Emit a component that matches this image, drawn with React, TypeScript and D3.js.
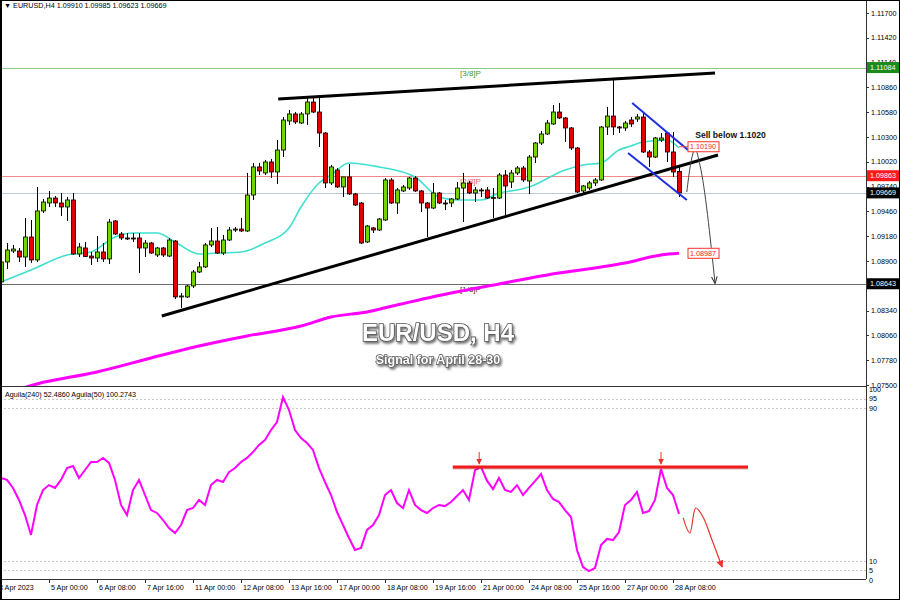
import React from 'react';
import * as d3 from 'd3';

// ---------- data ----------
const candleOpen = [1.08663,1.08889,1.09013,1.09013,1.08945,1.09171,1.08912,1.09465,1.09555,1.09611,1.09555,1.09510,1.09589,1.08979,1.09047,1.08956,1.08934,1.09002,1.08923,1.09352,1.09205,1.09160,1.09160,1.09160,1.09047,1.09103,1.08968,1.09047,1.08956,1.09126,1.08494,1.08494,1.08618,1.08776,1.08833,1.09081,1.09126,1.08990,1.09137,1.09250,1.09261,1.09239,1.09645,1.09962,1.09894,1.10018,1.09905,1.10153,1.10481,1.10560,1.10458,1.10560,1.10695,1.10582,1.10345,1.09781,1.09927,1.09736,1.09849,1.09657,1.09555,1.09115,1.09273,1.09250,1.09363,1.09815,1.09555,1.09691,1.09724,1.09837,1.09691,1.09555,1.09498,1.09668,1.09555,1.09555,1.09600,1.09724,1.09781,1.09668,1.09702,1.09702,1.09611,1.09611,1.09871,1.09792,1.09894,1.09950,1.09803,1.10074,1.10232,1.10334,1.10447,1.10582,1.10515,1.10402,1.10176,1.09691,1.09724,1.09781,1.09815,1.10413,1.10537,1.10413,1.10402,1.10492,1.10503,1.10526,1.10131,1.10074,1.10266,1.10345,1.10131,1.09910];
const candleHigh = [1.08912,1.09103,1.09081,1.09047,1.09386,1.09363,1.09736,1.09600,1.09691,1.09634,1.09668,1.09623,1.09668,1.09103,1.09115,1.09002,1.09182,1.09103,1.09374,1.09363,1.09228,1.09216,1.09216,1.09216,1.09137,1.09115,1.09058,1.09058,1.09160,1.09137,1.08539,1.08629,1.08798,1.08889,1.09103,1.09273,1.09284,1.09194,1.09284,1.09284,1.09386,1.09894,1.10007,1.10007,1.10040,1.10052,1.10266,1.10526,1.10605,1.10582,1.10582,1.10740,1.10740,1.10740,1.10357,1.09984,1.09950,1.09849,1.09995,1.09668,1.09566,1.09307,1.09284,1.09386,1.09837,1.09837,1.09724,1.09758,1.09849,1.09860,1.09702,1.09566,1.09781,1.09679,1.09589,1.09611,1.09792,1.09894,1.09803,1.09736,1.09724,1.09736,1.09724,1.09894,1.09927,1.09927,1.09973,1.09973,1.10097,1.10244,1.10368,1.10492,1.10661,1.10684,1.10526,1.10413,1.10187,1.09758,1.09803,1.09837,1.10424,1.10639,1.10944,1.10424,1.10481,1.10526,1.10560,1.10571,1.10153,1.10300,1.10345,1.10357,1.10357,1.09985];
const candleLow = [1.08641,1.08810,1.08990,1.08889,1.08833,1.08878,1.08889,1.09442,1.09510,1.09510,1.09408,1.09352,1.08968,1.08945,1.08945,1.08855,1.08889,1.08889,1.08866,1.09194,1.09137,1.09137,1.09115,1.08764,1.08945,1.08979,1.08945,1.08945,1.08945,1.08471,1.08369,1.08482,1.08595,1.08764,1.08821,1.09058,1.08979,1.08968,1.09126,1.09228,1.09228,1.09228,1.09589,1.09871,1.09871,1.09837,1.09769,1.10074,1.10436,1.10447,1.10447,1.10436,1.10571,1.10187,1.09724,1.09758,1.09724,1.09623,1.09645,1.09521,1.09092,1.09103,1.09216,1.09239,1.09352,1.09544,1.09431,1.09679,1.09702,1.09679,1.09453,1.09171,1.09487,1.09544,1.09476,1.09510,1.09589,1.09340,1.09657,1.09566,1.09623,1.09600,1.09386,1.09600,1.09419,1.09724,1.09871,1.09792,1.09657,1.10007,1.10210,1.10323,1.10436,1.10503,1.10244,1.10153,1.09668,1.09668,1.09702,1.09747,1.09803,1.10323,1.10323,1.10345,1.10368,1.10413,1.10470,1.10119,1.09962,1.10063,1.10244,1.10018,1.09849,1.09623];
const candleClose = [1.08889,1.09024,1.09035,1.08945,1.09171,1.08912,1.09465,1.09566,1.09611,1.09555,1.09510,1.09589,1.08979,1.09058,1.08950,1.08934,1.09002,1.08923,1.09340,1.09205,1.09160,1.09149,1.09155,1.09047,1.09103,1.08990,1.09047,1.08968,1.09137,1.08494,1.08505,1.08618,1.08776,1.08833,1.09081,1.09126,1.08990,1.09137,1.09250,1.09261,1.09239,1.09645,1.09962,1.09916,1.10018,1.09905,1.10153,1.10492,1.10560,1.10470,1.10560,1.10695,1.10582,1.10345,1.09781,1.09962,1.09736,1.09849,1.09657,1.09532,1.09103,1.09295,1.09250,1.09374,1.09815,1.09555,1.09702,1.09736,1.09837,1.09691,1.09555,1.09498,1.09668,1.09555,1.09550,1.09600,1.09724,1.09781,1.09668,1.09702,1.09696,1.09611,1.09617,1.09871,1.09747,1.09894,1.09950,1.09815,1.10074,1.10232,1.10334,1.10458,1.10582,1.10515,1.10402,1.10176,1.09679,1.09747,1.09781,1.09815,1.10413,1.10537,1.10413,1.10408,1.10458,1.10447,1.10526,1.10131,1.10074,1.10289,1.10289,1.10131,1.09905,1.09669];

const maFastBars = [0,5,11,15,19,22,26,29,33,36,40,44,48,50,53,55,58,63,69,73,76,80,83,86,88,94,97,100,103,105,107,111,113];
const maFastValues = [1.08663,1.08798,1.08968,1.09002,1.09171,1.09216,1.09216,1.09115,1.08979,1.08990,1.09002,1.09103,1.09273,1.09510,1.09781,1.09871,1.10007,1.09962,1.09849,1.09623,1.09589,1.09589,1.09668,1.09702,1.09736,1.09927,1.09984,1.10007,1.10153,1.10199,1.10244,1.10266,1.10176];

const maSlowBars = [0,6,16,25,33,41,50,55,61,66,75,83,93,99,104,110,113];
const maSlowValues = [1.07387,1.07512,1.07647,1.07805,1.07941,1.08054,1.08166,1.08268,1.08325,1.08404,1.08539,1.08641,1.08764,1.08821,1.08878,1.08968,1.08987];

const aguilaValues = [53.4,52.4,48.2,41.9,34.0,23.6,39.3,47.1,49.7,48.2,52.4,58.6,59.7,53.4,57.6,61.8,61.8,63.9,61.3,52.4,39.3,34.0,47.1,52.4,44.5,36.6,35.1,31.4,27.2,24.6,28.8,36.6,37.7,41.9,39.3,49.7,52.4,51.3,56.5,58.6,61.8,63.9,67.0,70.7,73.3,78.5,82.7,95.8,89.0,78.5,74.3,71.7,68.1,58.6,51.3,44.5,35.6,28.8,22.0,15.7,16.8,26.2,28.8,34.0,44.5,47.1,40.3,37.7,47.1,39.3,36.6,35.1,37.7,39.3,38.7,40.8,44.0,47.1,41.9,57.5,59.2,52.0,47.6,53.4,47.1,46.1,49.7,44.5,48.2,51.8,55.5,47.1,42.4,40.8,36.6,33.0,15.7,6.8,4.7,6.3,18.3,21.5,20.9,25.1,39.3,41.9,46.1,35.1,36.1,41.9,58.1,48.2,44.5,34.6];

const priceTicks = [1.117,1.1142,1.1114,1.1086,1.1058,1.103,1.1002,1.0974,1.0946,1.0918,1.089,1.0862,1.0834,1.0806,1.0778,1.075];
const hiddenPriceTicks = [1.0862];
const timeTickBars = [8,16,24,32,40,48,56,64,72,80,88,96,104,112];
const timeTickLabels = ['5 Apr 00:00','6 Apr 08:00','7 Apr 16:00','11 Apr 00:00','12 Apr 08:00','13 Apr 16:00','17 Apr 00:00','18 Apr 08:00','19 Apr 16:00','21 Apr 00:00','24 Apr 08:00','25 Apr 16:00','27 Apr 00:00','28 Apr 08:00'];
const aguilaTicks = [100,95,90,10,5,0];
const aguilaGrid = [95,90,10,5];

const levelPrices = [1.11084,1.09863,1.09669,1.08643];
const levelColors = ['#8cc98c','#f08a8a','#bcc6d6','#6a6a6a'];
const levelBoxColors = ['#1a8a1a','#ff1a1a','#000000','#000000'];
const murreyNames = ['[3/8]P','[2/8]P','','[1/8]P'];
const murreyTextColors = ['#3c9a3c','#f06060','','#333333'];

const upperTrend: [number, number][] = [[46.2,1.10729],[119,1.11023]];
const lowerTrend: [number, number][] = [[26.8,1.08279],[119.5,1.10097]];
const channelUpper: [number, number][] = [[105.2,1.10684],[114.5,1.10153]];
const channelLower: [number, number][] = [[104.5,1.10119],[114.3,1.09589]];
const sellPath: [number, number][] = [[114.3,1.09679],[114.9,1.0998],[115.7,1.1016],[116.5,1.0998],[119,1.08652]];
const aguilaForecast: [number, number][] = [[113.7,32.5],[114.8,24.6],[115.8,37.7],[117,33.0],[118.5,20.9],[120.2,6.8]];
const aguilaLevel = 59.2;
const aguilaLevelBars = [75.3,124.5];
const aguilaPeakBars = [79.7,110];

export default function App() {
  const x = d3.scaleLinear().domain([0, 113]).range([1, 679]);
  const y = d3.scaleLinear().domain([1.075, 1.117]).range([385, 13]);
  const yi = d3.scaleLinear().domain([0, 100]).range([580, 389]);

  const font = 'Liberation Sans, Arial, sans-serif';
  const fs = 7.2;

  const lineP = d3.line<[number, number]>().x(d => x(d[0])).y(d => y(d[1]));
  const lineFast = d3.line<number>().x((_, i) => x(maFastBars[i])).y(d => y(d)).curve(d3.curveMonotoneX);
  const lineSlow = d3.line<number>().x((_, i) => x(maSlowBars[i])).y(d => y(d)).curve(d3.curveMonotoneX);
  const lineAg = d3.line<number>().x((_, i) => x(i)).y(d => yi(d));
  const sellLine = d3.line<[number, number]>().x(d => x(d[0])).y(d => y(d[1])).curve(d3.curveMonotoneX);
  const fcLine = d3.line<[number, number]>().x(d => x(d[0])).y(d => yi(d[1])).curve(d3.curveCatmullRom);

  return (
    <svg width={900} height={600} style={{ position: 'absolute', left: 0, top: 0, background: '#fff' }} fontFamily={font}>
      <defs>
        <clipPath id="mainClip"><rect x={0} y={0} width={866} height={386} /></clipPath>
        <clipPath id="indClip"><rect x={0} y={388} width={866} height={191} /></clipPath>
        <marker id="arrGray" viewBox="0 0 10 10" refX="9" refY="5" markerWidth="7" markerHeight="7" orient="auto">
          <path d="M0,1 L10,5 L0,9" fill="none" stroke="#333" strokeWidth="1.5" />
        </marker>
        <marker id="arrRed" viewBox="0 0 10 10" refX="9" refY="5" markerWidth="6" markerHeight="6" orient="auto">
          <path d="M0,0 L10,5 L0,10 z" fill="#e8352b" />
        </marker>
        <filter id="shadow" x="-10%" y="-30%" width="130%" height="170%">
          <feDropShadow dx="1.5" dy="2" stdDeviation="1.2" floodColor="#000" floodOpacity="0.55" />
        </filter>
      </defs>
      <rect x={0} y={0} width={900} height={600} fill="#fff" />

      {/* main panel */}
      <g clipPath="url(#mainClip)">
        {levelPrices.map((p, k) => (
          <line key={'lv' + k} x1={0} x2={866} y1={Math.round(y(p)) + 0.5} y2={Math.round(y(p)) + 0.5} stroke={levelColors[k]} strokeWidth={1} />
        ))}
        {murreyNames.map((n, k) => n ? (
          <text key={'mn' + k} x={x(76.5)} y={y(levelPrices[k]) + 8} fontSize={8} fill={murreyTextColors[k]}>{n}</text>
        ) : null)}
        <path d={lineSlow(maSlowValues) || ''} fill="none" stroke="#ff00ff" strokeWidth={3} />
        <path d={lineFast(maFastValues) || ''} fill="none" stroke="#40e0d0" strokeWidth={1.6} />
        {candleOpen.map((o, i) => {
          const c = candleClose[i];
          const cx = Math.round(x(i));
          const top = y(Math.max(o, c));
          const bot = y(Math.min(o, c));
          const up = c >= o;
          return (
            <g key={'c' + i}>
              <line x1={cx + 0.5} x2={cx + 0.5} y1={y(candleHigh[i])} y2={y(candleLow[i])} stroke="#000" strokeWidth={1} />
              <rect x={cx - 1.5} y={top} width={4} height={Math.max(1, bot - top)} fill={up ? '#72d400' : '#e40000'} stroke="#000" strokeWidth={0.8} />
            </g>
          );
        })}
        <path d={lineP(upperTrend) || ''} stroke="#000" strokeWidth={3} fill="none" />
        <path d={lineP(lowerTrend) || ''} stroke="#000" strokeWidth={3} fill="none" />
        <path d={lineP(channelUpper) || ''} stroke="#1f2fe0" strokeWidth={2} fill="none" />
        <path d={lineP(channelLower) || ''} stroke="#1f2fe0" strokeWidth={2} fill="none" />
        <path d={sellLine(sellPath) || ''} stroke="#444" strokeWidth={1} fill="none" markerEnd="url(#arrGray)" />
        <line x1={x(113)} x2={x(114.5)} y1={y(1.1019)} y2={y(1.1019)} stroke="#f05050" strokeWidth={1} />
        {[1.1019, 1.08987].map((p, k) => (
          <g key={'bx' + k}>
            <rect x={x(114.5)} y={y(p) - 5} width={31} height={10} fill="#fff" stroke="#ff3030" strokeWidth={1} />
            <text x={x(114.5) + 2} y={y(p) + 2.7} fontSize={fs} fill="#ff2020">{p.toFixed(5)}</text>
          </g>
        ))}
        <text x={x(115.7)} y={y(1.10289)} fontSize={8.6} fontWeight="bold" fill="#111">Sell below 1.1020</text>
        <g filter="url(#shadow)">
          <text x={438} y={341} textAnchor="middle" fontSize={24} fontWeight="bold" fill="#fff" stroke="#555" strokeWidth={1.6} paintOrder="stroke" fontFamily="Liberation Sans, Arial, sans-serif">EUR/USD, H4</text>
          <text x={438} y={364} textAnchor="middle" fontSize={12.5} fontWeight="bold" fill="#fff" stroke="#555" strokeWidth={1.4} paintOrder="stroke" fontFamily="Liberation Sans, Arial, sans-serif">Signal for April 28-30</text>
        </g>
      </g>

      {/* header */}
      <text x={4} y={8} fontSize={fs} fill="#000">▼ EURUSD,H4  1.09910 1.09985 1.09623 1.09669</text>

      {/* price axis */}
      <line x1={866.5} x2={866.5} y1={0} y2={579} stroke="#333" />
      {priceTicks.map((p, k) => (
        <g key={'pt' + k}>
          <line x1={866} x2={869} y1={Math.round(y(p)) + 0.5} y2={Math.round(y(p)) + 0.5} stroke="#333" />
          {hiddenPriceTicks.includes(p) ? null : (
            <text x={871} y={y(p) + 2.6} fontSize={fs} fill="#000">{p.toFixed(5)}</text>
          )}
        </g>
      ))}
      {levelPrices.map((p, k) => (
        <g key={'lb' + k}>
          <rect x={867} y={y(p) - 5.5} width={32} height={11} fill={levelBoxColors[k]} />
          <text x={870} y={y(p) + 2.6} fontSize={fs} fill="#fff">{p.toFixed(5)}</text>
        </g>
      ))}

      {/* separators */}
      <line x1={0} x2={866} y1={386.5} y2={386.5} stroke="#333" />
      <line x1={0} x2={866} y1={579.5} y2={579.5} stroke="#333" />

      {/* indicator panel */}
      <text x={5} y={397} fontSize={fs} fill="#000">Aguila(240) 52.4860  Aguila(50) 100.2743</text>
      {aguilaGrid.map((v, k) => (
        <line key={'ag' + k} x1={0} x2={866} y1={Math.round(yi(v)) + 0.5} y2={Math.round(yi(v)) + 0.5} stroke="#c8c8c8" strokeDasharray="2,2" />
      ))}
      {aguilaTicks.map((v, k) => (
        <text key={'at' + k} x={869} y={yi(v) + 2.6} fontSize={fs} fill="#000">{v}</text>
      ))}
      <g clipPath="url(#indClip)">
        <path d={lineAg(aguilaValues) || ''} fill="none" stroke="#ff00ff" strokeWidth={2} />
      </g>
      <line x1={x(aguilaLevelBars[0])} x2={x(aguilaLevelBars[1])} y1={yi(aguilaLevel) + 1} y2={yi(aguilaLevel) + 1} stroke="#8a2020" strokeOpacity={0.35} strokeWidth={3} />
      <line x1={x(aguilaLevelBars[0])} x2={x(aguilaLevelBars[1])} y1={yi(aguilaLevel)} y2={yi(aguilaLevel)} stroke="#ee1c1c" strokeWidth={3} />
      {aguilaPeakBars.map((b, k) => (
        <line key={'pa' + k} x1={x(b)} x2={x(b)} y1={yi(67)} y2={yi(aguilaLevel + 1.5)} stroke="#e8352b" strokeWidth={1} markerEnd="url(#arrRed)" />
      ))}
      <path d={fcLine(aguilaForecast) || ''} fill="none" stroke="#e8352b" strokeWidth={1.2} markerEnd="url(#arrRed)" />

      {/* time axis */}
      <text x={-1} y={590} fontSize={fs} fill="#000">3 Apr 2023</text>
      {timeTickBars.map((b, k) => (
        <g key={'tt' + k}>
          <line x1={Math.round(x(b)) + 0.5} x2={Math.round(x(b)) + 0.5} y1={579} y2={583} stroke="#333" />
          <text x={x(b) + 2} y={590} fontSize={fs} fill="#000">{timeTickLabels[k]}</text>
        </g>
      ))}

      {/* outer frame */}
      <rect x={0.5} y={0.5} width={899} height={599} fill="none" stroke="#000" strokeWidth={1} />
      <line x1={1.5} x2={1.5} y1={0} y2={600} stroke="#000" />
    </svg>
  );
}
